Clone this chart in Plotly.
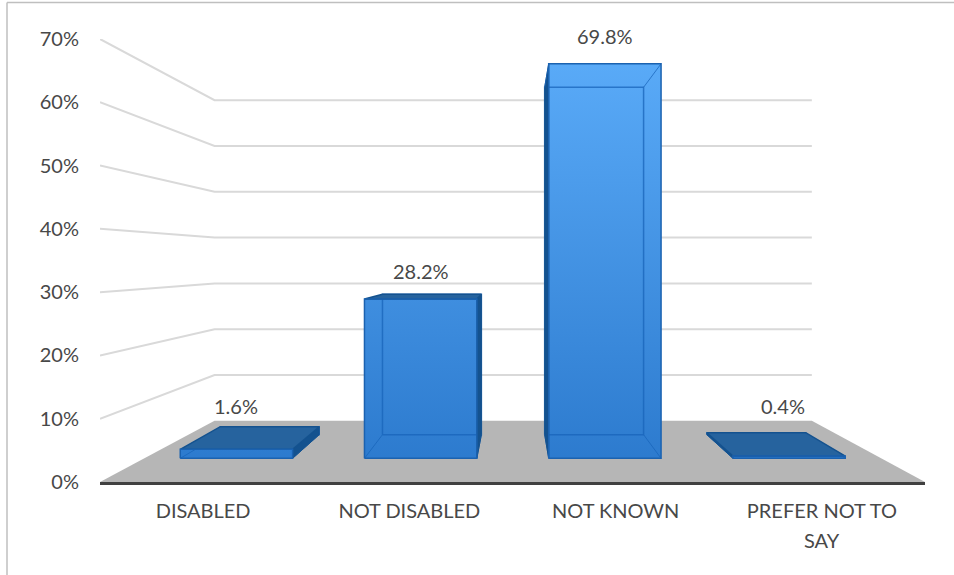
import plotly.graph_objects as go

# ---- data ----
categories = ["DISABLED", "NOT DISABLED", "NOT KNOWN", "PREFER NOT TO"]
category_second_line = ["", "", "", "SAY"]
values = [1.6, 28.2, 69.8, 0.4]
value_labels = ["1.6%", "28.2%", "69.8%", "0.4%"]
y_ticks = [0, 10, 20, 30, 40, 50, 60, 70]
y_tick_labels = ["0%", "10%", "20%", "30%", "40%", "50%", "60%", "70%"]

# ---- look of the 3-D view ----
W, H = 954, 575
L, R, T, B = 100, 925, 38.5, 482          # plot box in pixels
SHRINK = 0.276                            # back wall scale loss
CX = 2.012                                # vanishing point, category units
CV = 35.0                                 # vanishing point, percent units
BAR_HALF = 0.305
T_FRONT, T_BACK = 0.387, 0.774
FONT = "Lato"
SIZE = 20
TXT = "#484848"
label_dx = [0, 0, 0, -6]
label_dy = [43, 28, 28, 50]

GRID = "#d9d9d9"
FLOOR = "#b6b6b6"
EDGE = "#1b62b0"
INNER = "rgba(24,100,185,0.75)"
DARK = "#14528f"
TOP_DARK = "#26639e"
BAR_LOW = "#2a78cc"
BAR_HIGH = "#5cadfa"


def proj(x, depth, v):
    s = 1 - SHRINK * depth
    return CX + (x - CX) * s, CV + (v - CV) * s


def poly(fig, pts, fill=None, line=EDGE, width=1.5, grad=False, close=True):
    p = [proj(*q) for q in pts]
    if close:
        p.append(p[0])
    kw = dict(
        x=[a for a, _ in p], y=[b for _, b in p], mode="lines",
        hoverinfo="skip", showlegend=False, cliponaxis=False,
        line=dict(color=line, width=width) if line else dict(width=0),
    )
    if grad:
        kw["fill"] = "toself"
        kw["fillgradient"] = dict(
            type="vertical", start=0, stop=70,
            colorscale=[[0, BAR_LOW], [1, BAR_HIGH]],
        )
    elif fill:
        kw["fill"] = "toself"
        kw["fillcolor"] = fill
    fig.add_trace(go.Scatter(**kw))


fig = go.Figure()

# wall gridlines
for v in y_ticks[1:]:
    poly(fig, [(0, 0, v), (0, 1, v), (4, 1, v)], line=GRID, width=2, close=False)

# floor
poly(fig, [(0, 0, 0), (4, 0, 0), (4, 1, 0), (0, 1, 0)], fill=FLOOR, line=None)

# bars
for i, v in enumerate(values):
    c = i + 0.5
    a, b = c - BAR_HALF, c + BAR_HALF
    f, k = T_FRONT, T_BACK
    side = a if c > CX else b
    poly(fig, [(a, f, 0), (b, f, 0), (b, f, v), (a, f, v)], grad=True, line=None)
    # hidden edges seen through the glass
    poly(fig, [(a, k, 0), (b, k, 0), (b, k, v), (a, k, v)], line=INNER, width=1.5)
    poly(fig, [(a, f, 0), (a, k, 0)], line=INNER, width=1, close=False)
    poly(fig, [(b, f, 0), (b, k, 0)], line=INNER, width=1, close=False)
    # side wall
    poly(fig, [(side, f, 0), (side, k, 0), (side, k, v), (side, f, v)],
         fill=DARK, line=DARK, width=1)
    # top
    if v < CV:
        poly(fig, [(a, f, v), (b, f, v), (b, k, v), (a, k, v)],
             fill=TOP_DARK, line=DARK, width=1.5)
    else:
        poly(fig, [(a, f, v), (a, k, v)], line=INNER, width=1, close=False)
        poly(fig, [(b, f, v), (b, k, v)], line=INNER, width=1, close=False)
    # front outline
    poly(fig, [(a, f, 0), (b, f, 0), (b, f, v), (a, f, v)], line=EDGE, width=1.5)

annotations = []
for i, v in enumerate(values):
    x, y = proj(i + 0.5, T_FRONT, v)
    annotations.append(dict(
        x=x, y=y, xref="x", yref="y", text=value_labels[i], showarrow=False,
        xshift=label_dx[i], yshift=label_dy[i],
        font=dict(family=FONT, size=SIZE, color=TXT),
    ))
for i, extra in enumerate(category_second_line):
    if extra:
        annotations.append(dict(
            x=i + 0.5, y=0, xref="x", yref="y", text=extra, showarrow=False,
            yshift=-58, font=dict(family=FONT, size=SIZE, color=TXT),
        ))

fig.update_layout(
    width=W, height=H, autosize=False,
    margin=dict(l=L, r=W - R, t=T, b=H - B, pad=0),
    paper_bgcolor="white", plot_bgcolor="white", showlegend=False,
    font=dict(family=FONT, size=SIZE, color=TXT),
    annotations=annotations,
    xaxis=dict(
        range=[0, 4], tickmode="array",
        tickvals=[i + 0.5 for i in range(4)], ticktext=categories,
        showgrid=False, zeroline=False, showline=True,
        linecolor="#404040", linewidth=3,
        ticks="outside", ticklen=9, tickcolor="rgba(0,0,0,0)",
        tickfont=dict(family=FONT, size=SIZE, color=TXT),
    ),
    yaxis=dict(
        range=[0, 70], tickmode="array", tickvals=y_ticks,
        ticktext=y_tick_labels, showgrid=False, zeroline=False,
        showline=False, ticks="outside", ticklen=16,
        tickcolor="rgba(0,0,0,0)",
        tickfont=dict(family=FONT, size=SIZE, color=TXT),
    ),
    shapes=[
        dict(type="line", xref="paper", yref="paper",
             x0=(7 - L) / (R - L), x1=(7 - L) / (R - L),
             y0=(B - 2) / (B - T), y1=(B - H) / (B - T),
             line=dict(color="#bfbfbf", width=1.5)),
        dict(type="line", xref="paper", yref="paper",
             x0=(7 - L) / (R - L), x1=(W - L) / (R - L),
             y0=(B - 2) / (B - T), y1=(B - 2) / (B - T),
             line=dict(color="#bfbfbf", width=1.5)),
    ],
)
fig.write_html("out.html", config={"displayModeBar": False},
               post_script="document.body.style.margin='0';")
